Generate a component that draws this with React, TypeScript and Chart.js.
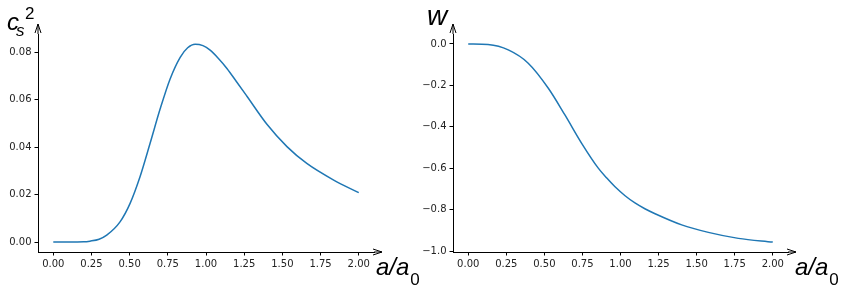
import React, { useEffect, useRef } from "react";
import { Chart, registerables } from "chart.js";

Chart.register(...registerables);

// ---- data ----
const csX = [0, 0.1, 0.2, 0.24, 0.3, 0.35, 0.437, 0.503, 0.568, 0.634, 0.7, 0.765, 0.831, 0.88, 0.929, 0.98, 1.027, 1.08, 1.137, 1.2, 1.268, 1.399, 1.53, 1.66, 1.836, 2.0];
const csY = [0, 0, 0.0001, 0.0004, 0.0012, 0.0029, 0.0085, 0.0163, 0.0275, 0.0416, 0.0561, 0.0687, 0.0778, 0.0818, 0.0833, 0.0827, 0.0808, 0.0774, 0.0731, 0.0675, 0.0614, 0.0496, 0.0402, 0.0331, 0.0261, 0.0208];

const wX = [0, 0.13, 0.263, 0.394, 0.526, 0.635, 0.745, 0.854, 0.91, 0.964, 1.03, 1.095, 1.16, 1.227, 1.402, 1.577, 1.774, 2.0];
const wY = [0, -0.003, -0.029, -0.093, -0.214, -0.343, -0.48, -0.6, -0.648, -0.69, -0.733, -0.768, -0.796, -0.82, -0.874, -0.91, -0.939, -0.957];

const xTicks = [0, 0.25, 0.5, 0.75, 1.0, 1.25, 1.5, 1.75, 2.0];
const csTicks = [0, 0.02, 0.04, 0.06, 0.08];
const wTicks = [-1.0, -0.8, -0.6, -0.4, -0.2, 0.0];

const LINE = "#1f77b4";
const TICKFONT = { family: "'DejaVu Sans', sans-serif", size: 10 };

function fmt(v: number, d: number) {
  const s = Math.abs(v).toFixed(d);
  return v < -1e-9 ? "\u2212" + s : s;
}

type LabelDraw = (ctx: CanvasRenderingContext2D, area: any) => void;

function makeArrowPlugin(drawLabels: LabelDraw) {
  return {
    id: "arrows",
    afterDraw(chart: any) {
      const { ctx, chartArea } = chart;
      const { left, right, top, bottom } = chartArea;
      ctx.save();
      ctx.strokeStyle = "#000";
      ctx.lineWidth = 1;
      // y axis arrow
      ctx.beginPath();
      ctx.moveTo(left, top);
      ctx.lineTo(left, top - 10);
      ctx.moveTo(left - 3, top - 1);
      ctx.lineTo(left, top - 10);
      ctx.lineTo(left + 3, top - 1);
      ctx.stroke();
      // x axis arrow
      ctx.beginPath();
      ctx.moveTo(right, bottom);
      ctx.lineTo(right + 8, bottom);
      ctx.moveTo(right - 1, bottom - 3);
      ctx.lineTo(right + 8, bottom);
      ctx.lineTo(right - 1, bottom + 3);
      ctx.stroke();
      ctx.fillStyle = "#000";
      ctx.textBaseline = "alphabetic";
      ctx.textAlign = "left";
      drawLabels(ctx, chartArea);
      ctx.restore();
    },
  };
}

function drawXLabel(ctx: CanvasRenderingContext2D, x: number) {
  ctx.font = "italic 24px 'Liberation Sans', Arial, sans-serif";
  ctx.fillText("a/a", x, 274.5);
  const w = ctx.measureText("a/a").width;
  ctx.font = "17px 'Liberation Sans', Arial, sans-serif";
  ctx.fillText("0", x + w + 1, 285);
}

function buildChart(
  canvas: HTMLCanvasElement,
  xs: number[],
  ys: number[],
  yMin: number,
  yMax: number,
  yTicks: number[],
  yDec: number,
  yWidth: number,
  rightPad: number,
  labels: LabelDraw
) {
  const data = xs.map((x, i) => ({ x, y: ys[i] }));
  return new Chart(canvas, {
    type: "line",
    data: {
      datasets: [
        {
          data,
          borderColor: LINE,
          borderWidth: 1.5,
          pointRadius: 0,
          fill: false,
          cubicInterpolationMode: "monotone",
        },
      ],
    },
    options: {
      animation: false,
      responsive: false,
      layout: { padding: { top: 34, right: rightPad, left: 0, bottom: 0 } },
      plugins: { legend: { display: false }, tooltip: { enabled: false } },
      scales: {
        x: {
          type: "linear",
          min: -0.1,
          max: 2.1,
          afterBuildTicks: (s: any) => {
            s.ticks = xTicks.map((v) => ({ value: v }));
          },
          afterFit: (s: any) => {
            s.height = 36;
          },
          ticks: {
            callback: (v: any) => fmt(Number(v), 2),
            font: TICKFONT,
            color: "#222",
            padding: 3,
            maxRotation: 0,
            autoSkip: false,
          },
          grid: { display: true, drawOnChartArea: false, drawTicks: true, tickLength: 3.5, color: "#000" },
          border: { display: true, color: "#000", width: 1 },
        },
        y: {
          type: "linear",
          min: yMin,
          max: yMax,
          afterBuildTicks: (s: any) => {
            s.ticks = yTicks.map((v) => ({ value: v }));
          },
          afterFit: (s: any) => {
            s.width = yWidth;
          },
          ticks: {
            callback: (v: any) => fmt(Number(v), yDec),
            font: TICKFONT,
            color: "#222",
            padding: 3,
            autoSkip: false,
          },
          grid: { display: true, drawOnChartArea: false, drawTicks: true, tickLength: 3.5, color: "#000" },
          border: { display: true, color: "#000", width: 1 },
        },
      },
    },
    plugins: [makeArrowPlugin(labels)],
  } as any);
}

export default function App() {
  const leftRef = useRef<HTMLCanvasElement>(null);
  const rightRef = useRef<HTMLCanvasElement>(null);

  useEffect(() => {
    const c1 = buildChart(leftRef.current!, csX, csY, -0.00417, 0.0876, csTicks, 2, 38, 49, (ctx) => {
      ctx.font = "italic 24px 'Liberation Sans', Arial, sans-serif";
      ctx.fillText("c", 7, 30);
      ctx.font = "italic 17px 'Liberation Sans', Arial, sans-serif";
      ctx.fillText("s", 16, 36);
      ctx.font = "17px 'Liberation Sans', Arial, sans-serif";
      ctx.fillText("2", 25, 19);
      drawXLabel(ctx, 376);
    });
    const c2 = buildChart(rightRef.current!, wX, wY, -1.0048, 0.0479, wTicks, 1, 53, 58, (ctx) => {
      ctx.font = "italic 28px 'Liberation Sans', Arial, sans-serif";
      ctx.fillText("w", 27, 25);
      drawXLabel(ctx, 395);
    });
    return () => {
      c1.destroy();
      c2.destroy();
    };
  }, []);

  return (
    <div style={{ position: "absolute", left: 0, top: 0, width: 846, height: 288, background: "#fff" }}>
      <canvas ref={leftRef} width={423} height={288} style={{ position: "absolute", left: 0, top: 0, width: 423, height: 288 }} />
      <canvas ref={rightRef} width={446} height={288} style={{ position: "absolute", left: 400, top: 0, width: 446, height: 288 }} />
    </div>
  );
}
